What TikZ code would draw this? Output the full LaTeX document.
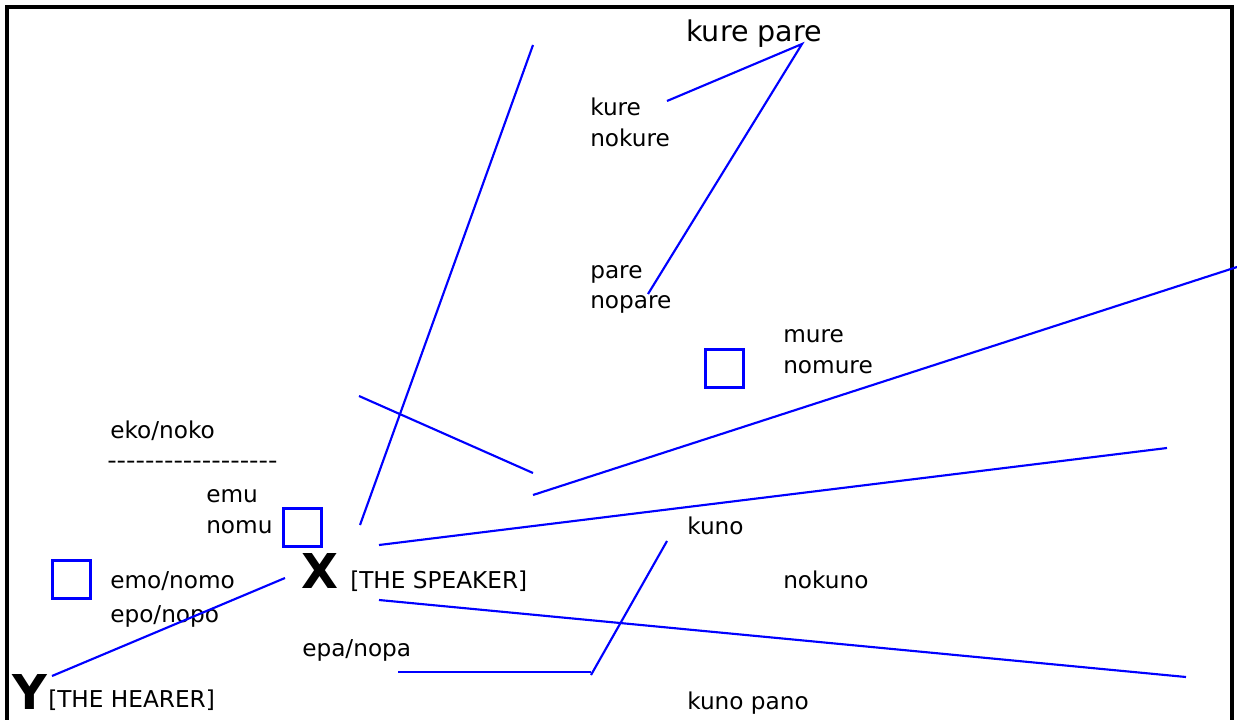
\documentclass[tikz,border=0pt]{standalone}
\usepackage{fontspec}
\setmainfont{DejaVu Sans}
\definecolor{lineblue}{RGB}{0,0,255}
\begin{document}
\begin{tikzpicture}[x=0.75pt,y=-0.75pt,
  lbl/.style={inner sep=0pt,anchor=base west,font=\fontsize{17.4}{20}\selectfont},
  big/.style={inner sep=0pt,anchor=base west,font=\fontsize{21.4}{24}\selectfont},
  letter/.style={inner sep=0pt,anchor=base west,font=\fontsize{36}{40}\selectfont\bfseries},
  ln/.style={draw=lineblue,line width=1.6pt},
  sq/.style={draw=lineblue,line width=1.6pt,minimum size=28.5pt,inner sep=0pt},
  frame/.style={draw=black,line width=2.6pt}]
\useasboundingbox (0,0) rectangle (1237,720);
\fill[white] (0,0) rectangle (1237,720);
% frame
\coordinate (f1) at (7,730);
\coordinate (f2) at (7,7);
\coordinate (f3) at (1232,7);
\coordinate (f4) at (1232,730);
\begin{scope}
\clip (0,0) rectangle (1237,720);
\draw[frame] (f1) -- (f2) -- (f3) -- (f4);
\end{scope}
% texts
\node[big] (kp) at (686,42) {kure pare};
\node[lbl] (kure) at (590,116) {kure};
\node[lbl] (nokure) at (590,147) {nokure};
\node[lbl] (pare) at (590,278) {pare};
\node[lbl] (nopare) at (590,308) {nopare};
\node[lbl] (mure) at (783,342) {mure};
\node[lbl] (nomure) at (783,373) {nomure};
\node[lbl] (eko) at (110,438) {eko/noko};
\node[lbl] (dash) at (107,468) {\addfontfeature{Ligatures=TeXOff}\scalebox{1.13}[1]{------------------}};
\node[lbl] (emu) at (206,502) {emu};
\node[lbl] (nomu) at (206,533) {nomu};
\node[lbl] (emo) at (110,588) {emo/nomo};
\node[lbl] (epo) at (110,622) {epo/nopo};
\node[letter] (X) at (301,588) {X};
\node[lbl] (spk) at (350,588) {[THE SPEAKER]};
\node[lbl] (epa) at (302,656) {epa/nopa};
\node[letter] (Y) at (12,709) {Y};
\node[lbl] (hear) at (48,707) {[THE HEARER]};
\node[lbl] (kuno) at (687,534) {kuno};
\node[lbl] (nokuno) at (783,588) {nokuno};
\node[lbl] (kp2) at (687,709) {kuno pano};
% squares
\node[sq] (s1) at (302.5,527.5) {};
\node[sq] (s2) at (71.5,579.5) {};
\node[sq] (s3) at (724.5,368.5) {};
% line end points
\coordinate (a1) at (667,101);
\coordinate (a2) at (802,44);
\coordinate (a3) at (648,294);
\coordinate (b1) at (533,45);
\coordinate (b2) at (360,525);
\coordinate (c1) at (359,396);
\coordinate (c2) at (533,473);
\coordinate (d1) at (533,495);
\coordinate (d2) at (1237,267);
\coordinate (e1) at (379,545);
\coordinate (e2) at (1167,448);
\coordinate (g1) at (379,600);
\coordinate (g2) at (1186,677);
\coordinate (h1) at (285,578);
\coordinate (h2) at (52,676);
\coordinate (k1) at (667,541);
\coordinate (k2) at (591,675);
\coordinate (k3) at (591,672);
\coordinate (k4) at (398,672);
% lines
\draw[ln] (a1) -- (a2) -- (a3);
\draw[ln] (b1) -- (b2);
\draw[ln] (c1) -- (c2);
\draw[ln] (d1) -- (d2);
\draw[ln] (e1) -- (e2);
\draw[ln] (g1) -- (g2);
\draw[ln] (h1) -- (h2);
\draw[ln] (k1) -- (k2);
\draw[ln] (k3) -- (k4);
\end{tikzpicture}
\end{document}
